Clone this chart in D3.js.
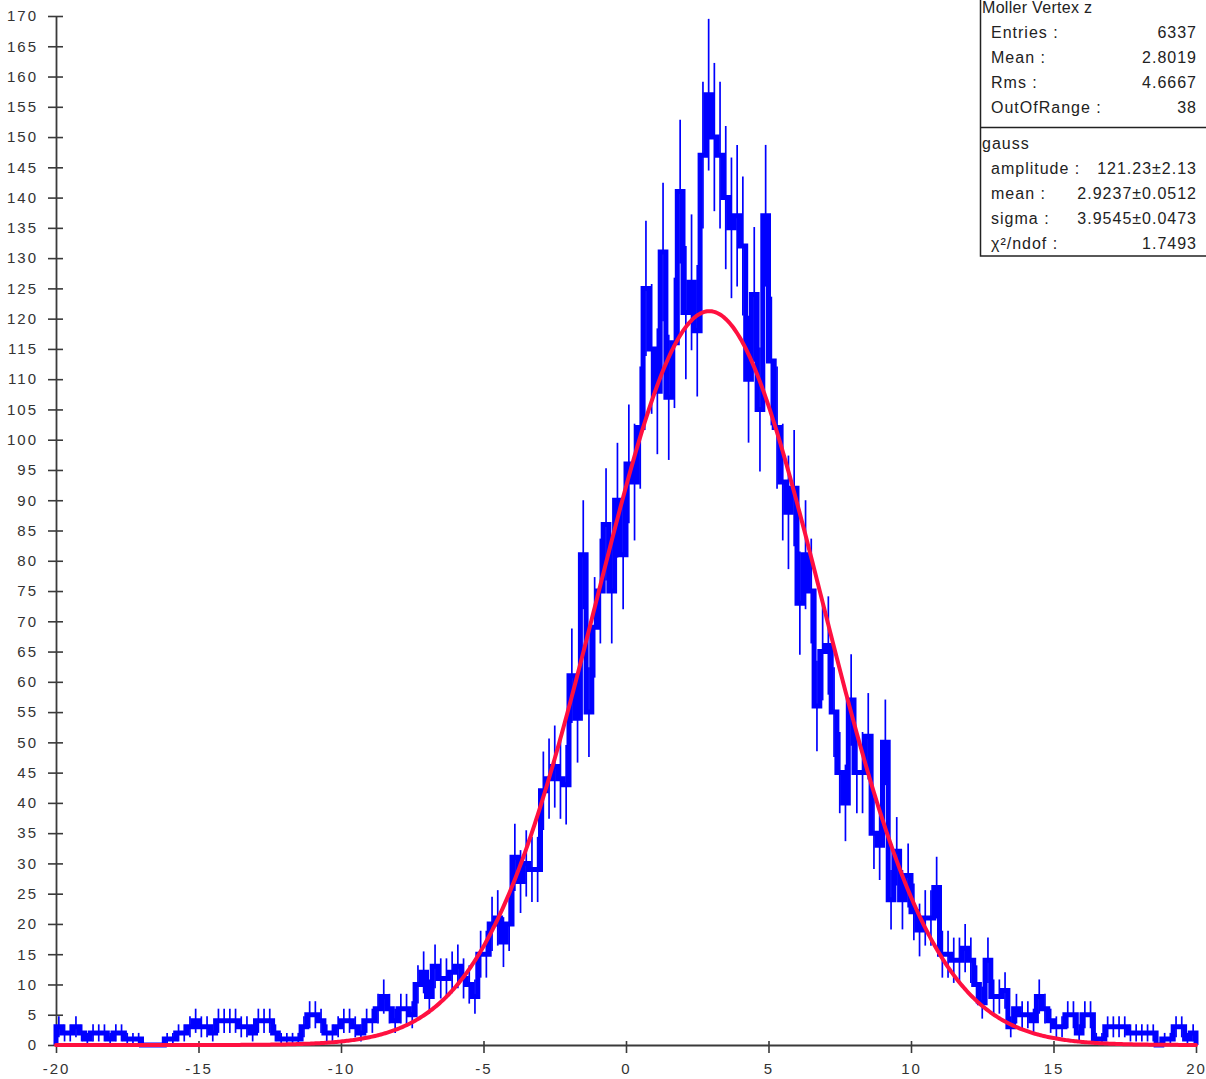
<!DOCTYPE html>
<html><head><meta charset="utf-8">
<script src="https://cdn.jsdelivr.net/npm/d3@7"></script>
<style>
html,body{margin:0;padding:0;background:#fff;overflow:hidden;}
svg{display:block;font-family:"Liberation Sans",Arial,sans-serif;}
</style></head><body>
<svg id="c" width="1206" height="1079"></svg>
<script>
// ---- data ----
const binLow = -20, binHigh = 20;
const counts = [
  3,2,2,3,2,1,2,2,2,1,
  2,2,1,1,1,0,0,0,0,1,
  1,2,2,3,4,3,3,2,4,4,
  4,4,3,3,2,4,4,4,2,1,
  1,1,1,3,5,5,4,2,2,3,
  4,4,3,2,4,4,6,8,6,4,
  6,6,5,10,12,8,13,11,11,12,
  13,11,10,8,15,15,20,21,17,20,
  31,27,30,29,29,42,44,46,44,43,
  61,54,81,55,69,75,86,75,90,81,
  96,93,102,125,115,108,131,107,116,141,
  121,126,118,147,157,150,147,140,135,137,
  132,110,124,105,137,113,102,93,88,92,
  73,81,75,56,65,66,55,45,40,57,
  45,45,51,35,33,50,24,32,24,28,
  22,19,21,21,26,15,15,14,14,16,
  14,10,7,14,8,8,9,3,6,5,
  5,4,8,6,4,3,3,5,5,2,
  5,5,1,1,3,3,3,3,2,2,
  2,2,2,0,1,1,3,3,1,2
];
const xTickValues = [-20,-15,-10,-5,0,5,10,15,20];
const yTickValues = [0,5,10,15,20,25,30,35,40,45,50,55,60,65,70,75,80,85,90,95,100,105,110,115,120,125,130,135,140,145,150,155,160,165,170];
const fitAmplitude = 121.23, fitMean = 2.9237, fitSigma = 3.9545;
const statsTitle = "Moller Vertex z";
const statsLabels = ["Entries :", "Mean :", "Rms :", "OutOfRange :"];
const statsValues = ["6337", "2.8019", "4.6667", "38"];
const fitTitle = "gauss";
const fitLabels = ["amplitude :", "mean :", "sigma :", "χ²/ndof :"];
const fitValues = ["121.23±2.13", "2.9237±0.0512", "3.9545±0.0473", "1.7493"];

// ---- drawing ----
const svg = d3.select("#c");
const x = d3.scaleLinear().domain([binLow, binHigh]).range([56, 1196]);
const y = d3.scaleLinear().domain([0, 170]).range([1045, 16]);
const nBins = counts.length;
const bw = (binHigh - binLow) / nBins;
const axisColor = "#3a3a3a";
const fmt = v => String(v);

// axes
const gy = svg.append("g").attr("transform", "translate(56,0)")
  .call(d3.axisLeft(y).tickValues(yTickValues).tickFormat(fmt).tickSize(8).tickSizeOuter(0).tickPadding(10));
gy.select(".domain").attr("stroke", axisColor).attr("stroke-width", 1.8);
gy.selectAll(".tick line").attr("x1", -8).attr("x2", 7).attr("stroke", axisColor).attr("stroke-width", 1.6);
gy.selectAll(".tick text").attr("font-size", 15).attr("fill", "#333").attr("letter-spacing", "2px")
  .attr("font-family", "'Liberation Sans',Arial,sans-serif");

const gx = svg.append("g").attr("transform", "translate(0,1045)")
  .call(d3.axisBottom(x).tickValues(xTickValues).tickFormat(fmt).tickSize(8).tickSizeOuter(0).tickPadding(10));
gx.select(".domain").attr("stroke", axisColor).attr("stroke-width", 1.8);
gx.selectAll(".tick line").attr("y1", -4).attr("y2", 8).attr("stroke", axisColor).attr("stroke-width", 1.6);
gx.selectAll(".tick text").attr("font-size", 15).attr("fill", "#333").attr("letter-spacing", "2px")
  .attr("font-family", "'Liberation Sans',Arial,sans-serif");

// histogram step line
const pts = [[x(binLow), y(0)]];
counts.forEach((c, i) => {
  const x0 = binLow + i * bw, x1 = x0 + bw;
  pts.push([x(x0), y(c)]);
  pts.push([x(x1), y(c)]);
});
pts.push([x(binHigh), y(0)]);
svg.append("path").attr("d", d3.line()(pts))
  .attr("fill", "none").attr("stroke", "#0000ff").attr("stroke-width", 5)
  .attr("stroke-linejoin", "miter");

// error bars
svg.append("g").selectAll("line").data(counts.map((c, i) => ({c, i})).filter(d => d.c > 0))
  .join("line")
  .attr("x1", d => x(binLow + (d.i + 0.5) * bw))
  .attr("x2", d => x(binLow + (d.i + 0.5) * bw))
  .attr("y1", d => y(Math.max(0, d.c - Math.sqrt(d.c))))
  .attr("y2", d => y(d.c + Math.sqrt(d.c)))
  .attr("stroke", "#0000ff").attr("stroke-width", 1.7);

// fit curve
const fx = d3.range(binLow, binHigh + 0.001, 0.05);
const gauss = z => fitAmplitude * Math.exp(-((z - fitMean) ** 2) / (2 * fitSigma * fitSigma));
svg.append("path").attr("d", d3.line().x(z => x(z)).y(z => y(gauss(z)))(fx))
  .attr("fill", "none").attr("stroke", "#ff1040").attr("stroke-width", 4)
  .attr("stroke-linejoin", "round").attr("stroke-linecap", "round");

// stats box
const box = svg.append("g");
box.append("rect").attr("x", 980.5).attr("y", -2).attr("width", 240).attr("height", 258)
  .attr("fill", "#fff").attr("stroke", "#222").attr("stroke-width", 1.5);
box.append("line").attr("x1", 980.5).attr("x2", 1206).attr("y1", 127.5).attr("y2", 127.5)
  .attr("stroke", "#222").attr("stroke-width", 1.5);
const tStyle = s => s.attr("font-size", 16).attr("fill", "#222").attr("letter-spacing", "1px");
box.append("text").attr("x", 982).attr("y", 13).text(statsTitle).call(tStyle).attr("letter-spacing", "0.3px");
statsLabels.forEach((l, i) => {
  box.append("text").attr("x", 991).attr("y", 38 + i * 25).text(l).call(tStyle);
  box.append("text").attr("x", 1197).attr("y", 38 + i * 25).attr("text-anchor", "end").text(statsValues[i]).call(tStyle);
});
box.append("text").attr("x", 982).attr("y", 149).text(fitTitle).call(tStyle);
fitLabels.forEach((l, i) => {
  box.append("text").attr("x", 991).attr("y", 174 + i * 25).text(l).call(tStyle);
  box.append("text").attr("x", 1197).attr("y", 174 + i * 25).attr("text-anchor", "end").text(fitValues[i]).call(tStyle);
});
</script>
</body></html>
